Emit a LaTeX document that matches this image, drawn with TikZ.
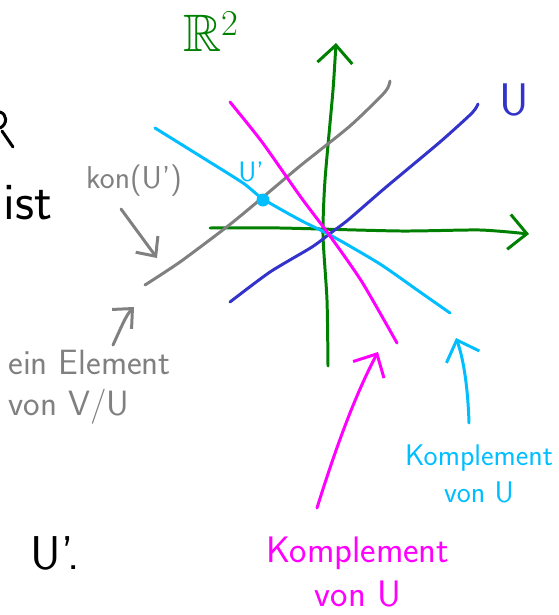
\documentclass[tikz,border=0pt]{standalone}
\usepackage{amssymb}
\usetikzlibrary{arrows.meta}
\definecolor{axgreen}{RGB}{0,128,0}
\definecolor{ublue}{RGB}{51,51,204}
\definecolor{ucyan}{RGB}{0,190,255}
\definecolor{umag}{RGB}{255,0,255}
\definecolor{ugray}{RGB}{128,128,128}
\begin{document}
\begin{tikzpicture}[x=0.02cm,y=-0.02cm, line cap=round, line join=round,
  stroke/.style={line width=1.7pt},
  bigtip/.style={-{Straight Barb[length=3.6mm,width=7mm,line width=1.7pt]}},
  smalltip/.style={-{Straight Barb[length=3mm,width=5.5mm,line width=1.7pt]}},
  lab/.style={inner sep=0pt, font=\sffamily},
]
\useasboundingbox (0,0) rectangle (558,615);

% axes
\coordinate (ybot) at (328,366);
\coordinate (ytop) at (336,43);
\coordinate (xleft) at (210,228);
\coordinate (xright) at (529,234);
\draw[stroke,axgreen,bigtip] plot[smooth,tension=0.4] coordinates {(ybot) (327,300) (323,235) (325,180) (333,90) (ytop)};
\draw[stroke,axgreen,bigtip] plot[smooth,tension=0.4] coordinates {(xleft) (280,228) (400,231) (480,230) (xright)};

% U (blue)
\draw[stroke,ublue] plot[smooth,tension=0.4] coordinates {(230,302) (270,272) (312,247) (332,232) (348,220) (385,188) (440,142) (472,113) (478,104)};
% kon(U') (gray)
\draw[stroke,ugray] plot[smooth,tension=0.4] coordinates {(145,285) (180,262) (228,226) (262,198) (300,166) (350,126) (385,92) (390,81)};
% complement (cyan)
\draw[stroke,ucyan] plot[smooth,tension=0.4] coordinates {(155,128) (200,156) (243,183) (263,199) (300,220) (332,236) (380,264) (420,292) (450,313)};
% complement (magenta)
\draw[stroke,umag] plot[smooth,tension=0.4] coordinates {(230,102) (262,142) (300,196) (330,236) (362,282) (397,343)};

% point U'
\fill[ucyan] (263,200) circle[radius=6.5];
\node[lab,ucyan,font=\sffamily\fontsize{16}{16}\selectfont] (up) at (251,172) {U'};

% labels
\node[lab,axgreen,font=\fontsize{30}{30}\selectfont] (r2) at (211,32) {$\mathbb{R}^2$};
\node[lab,ublue,font=\sffamily\fontsize{26}{26}\selectfont] (ul) at (514,100) {U};
\node[lab,ugray,font=\sffamily\fontsize{18}{18}\selectfont] (kon) at (134,181) {kon(U')};
\node[lab,ugray,align=left,anchor=north west,font=\sffamily\fontsize{20}{23}\selectfont] (ein) at (8,350) {ein Element\\von V/U};
\node[lab,ucyan,align=center,font=\sffamily\fontsize{17}{21}\selectfont] (kc) at (479,474) {Komplement\\von U};
\node[lab,umag,align=center,font=\sffamily\fontsize{21}{25}\selectfont] (km) at (358,572) {Komplement\\von U};
\node[lab,font=\sffamily\fontsize{30}{30}\selectfont] (ist) at (28,203) {ist};
\node[lab,font=\sffamily\fontsize{27}{27}\selectfont] (uprime) at (55,553) {U'.};

% cut-off letter at the left edge
\draw[stroke,black] (0,112) .. controls (7,114) and (8,124) .. (0,128);
\draw[stroke,black] (2,131) -- (13,147);

% pointer arrows
\coordinate (konS) at (121,209);
\coordinate (konE) at (157,258);
\draw[stroke,ugray,smalltip] (konS) -- (konE);
\coordinate (einS) at (113,345);
\coordinate (einE) at (134,307);
\draw[stroke,ugray,smalltip] (einS) .. controls (120,330) and (126,315) .. (einE);
\coordinate (kmS) at (317,508);
\coordinate (kmE) at (378,352);
\draw[stroke,umag,bigtip] (kmS) .. controls (335,450) and (355,395) .. (kmE);
\coordinate (kcS) at (469,423);
\coordinate (kcE) at (456,338);
\draw[stroke,ucyan,bigtip] (kcS) .. controls (468,390) and (464,360) .. (kcE);
\end{tikzpicture}
\end{document}
